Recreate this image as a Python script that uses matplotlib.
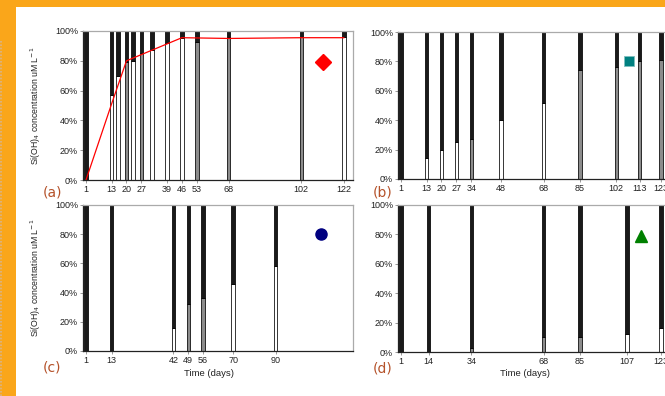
import matplotlib
matplotlib.use('Agg')
import matplotlib.pyplot as plt
from matplotlib.patches import Rectangle
from matplotlib.lines import Line2D

plt.rcParams['font.family'] = ['Liberation Sans', 'DejaVu Sans']

# ── Data ──────────────────────────────────────────────────────────────
# bar days, height (%) of the lower (light) segment, lower segment fill
a_days = [1, 13, 16, 20, 23, 27, 32, 39, 46, 53, 68, 102, 122]
a_low = [0, 57, 70, 79, 80, 85, 87, 92, 95.5, 92.5, 96, 96, 96]
a_fill = ['w', 'w', 'w', 'g', 'w', 'g', 'w', 'w', 'w', 'g', 'g', 'g', 'w']
a_ticks = [1, 13, 20, 27, 39, 46, 53, 68, 102, 122]
a_line_days = [1, 13, 20, 46, 68, 102, 122]
a_line_vals = [0, 51, 80, 95.5, 95, 95.5, 95.5]

b_days = [1, 13, 20, 27, 34, 48, 68, 85, 102, 113, 123]
b_low = [0, 14, 20, 25, 27, 40, 51.5, 74, 76, 80.5, 81]
b_fill = ['w', 'w', 'w', 'w', 'g', 'w', 'w', 'g', 'g', 'g', 'g']
b_ticks = [1, 13, 20, 27, 34, 48, 68, 85, 102, 113, 123]

c_days = [1, 13, 42, 49, 56, 70, 90]
c_low = [0, 0, 16, 32, 36.5, 46, 58]
c_fill = ['w', 'w', 'w', 'g', 'g', 'w', 'w']
c_ticks = [1, 13, 42, 49, 56, 70, 90]

d_days = [1, 14, 34, 68, 85, 107, 123]
d_low = [0, 0, 3, 10, 10, 12, 16.5]
d_fill = ['w', 'w', 'g', 'g', 'g', 'w', 'w']
d_ticks = [1, 14, 34, 68, 85, 107, 123]

# symbol marker for each panel: (day, %)
a_sym = (112, 79)
b_sym = (108, 80)
c_sym = (111.5, 80)
d_sym = (113.5, 79)

ORANGE = '#FAA61A'
LABEL_COL = '#B5522A'
FILLS = {'w': 'white', 'g': '#8c8c8c'}

W, H = 665, 396
fig = plt.figure(figsize=(W / 100, H / 100), dpi=100)
fig.patch.set_facecolor('white')

# orange frame (top + left band)
fig.patches.append(Rectangle((0, 1 - 7.3 / H), 1, 7.3 / H, transform=fig.transFigure,
                             facecolor=ORANGE, edgecolor='none', zorder=0))
fig.patches.append(Rectangle((0, 0), 16 / W, 1, transform=fig.transFigure,
                             facecolor=ORANGE, edgecolor='none', zorder=0))
fig.lines.append(Line2D([1 / W, 1 / W], [0, 1 - 40 / H], transform=fig.transFigure,
                        color='#d8b48a', linestyle=(0, (1, 1)), linewidth=1.2))


def px_box(x0, y_top, x1, y_bot):
    return [x0 / W, 1 - y_bot / H, (x1 - x0) / W, (y_bot - y_top) / H]


def draw_panel(box, days, low, fill, ticks, ylabel):
    ax = fig.add_axes(box)
    lows = low
    tops = [100 - v for v in low]
    colors = [FILLS[f] for f in fill]
    ax.bar(days, lows, width=1.6, color=colors, edgecolor='black', linewidth=0.55,
           zorder=2)
    ax.bar(days, tops, bottom=lows, width=1.6, color='#1a1a1a', edgecolor='black',
           linewidth=0.55, zorder=2)
    ax.set_xlim(-0.4, 126.3)
    ax.set_ylim(0, 100)
    ax.set_yticks([0, 20, 40, 60, 80, 100])
    ax.set_yticklabels(['0%', '20%', '40%', '60%', '80%', '100%'])
    ax.set_xticks(ticks)
    ax.set_xticklabels([str(t) for t in ticks])
    ax.tick_params(labelsize=6.5, length=2, width=0.6, color='#888888', pad=1.5,
                   labelcolor='#222222')
    for s in ['top', 'right']:
        ax.spines[s].set_color('#aaaaaa')
        ax.spines[s].set_linewidth(0.9)
    for s in ['left', 'bottom']:
        ax.spines[s].set_color('#222222')
        ax.spines[s].set_linewidth(0.9)
    if ylabel:
        ax.set_ylabel(r'Si(OH)$_4$ concentration uM L$^{-1}$', fontsize=6.3,
                      color='#222222')
        ax.yaxis.set_label_coords(-0.148, 0.5)
    return ax


ax_a = draw_panel(px_box(83, 31, 353, 180), a_days, a_low, a_fill, a_ticks, True)
ax_b = draw_panel(px_box(398, 32, 668, 179), b_days, b_low, b_fill, b_ticks, False)
ax_c = draw_panel(px_box(83, 205, 353, 351), c_days, c_low, c_fill, c_ticks, True)
ax_d = draw_panel(px_box(398, 205, 668, 352), d_days, d_low, d_fill, d_ticks, False)

ax_a.plot(a_line_days, a_line_vals, color='#ff0000', linewidth=0.9, zorder=3)

ax_a.plot(*a_sym, marker='D', markersize=8, color='#ff0000', zorder=4)
ax_b.plot(*b_sym, marker='s', markersize=7.5, color='#008080',
          markeredgecolor='#7fbfbf', markeredgewidth=0.6, zorder=4)
ax_c.plot(*c_sym, marker='o', markersize=8, color='#000080', zorder=4)
ax_d.plot(*d_sym, marker='^', markersize=8, color='#008000', zorder=4)

# panel letters
for lbl, x, y in [('(a)', 52.5, 193), ('(b)', 382.5, 193),
                  ('(c)', 52.5, 367.5), ('(d)', 382.5, 368)]:
    fig.text(x / W, 1 - y / H, lbl, fontsize=10, color=LABEL_COL,
             family=['DejaVu Sans'], ha='center', va='center')

# x labels on the bottom row
fig.text(208.5 / W, 1 - 373 / H, 'Time (days)', fontsize=6.8, color='#222222',
         ha='center', va='center')
fig.text(525 / W, 1 - 373.5 / H, 'Time (days)', fontsize=6.8, color='#222222',
         ha='center', va='center')

fig.savefig('out.png', dpi=100, facecolor='white')
